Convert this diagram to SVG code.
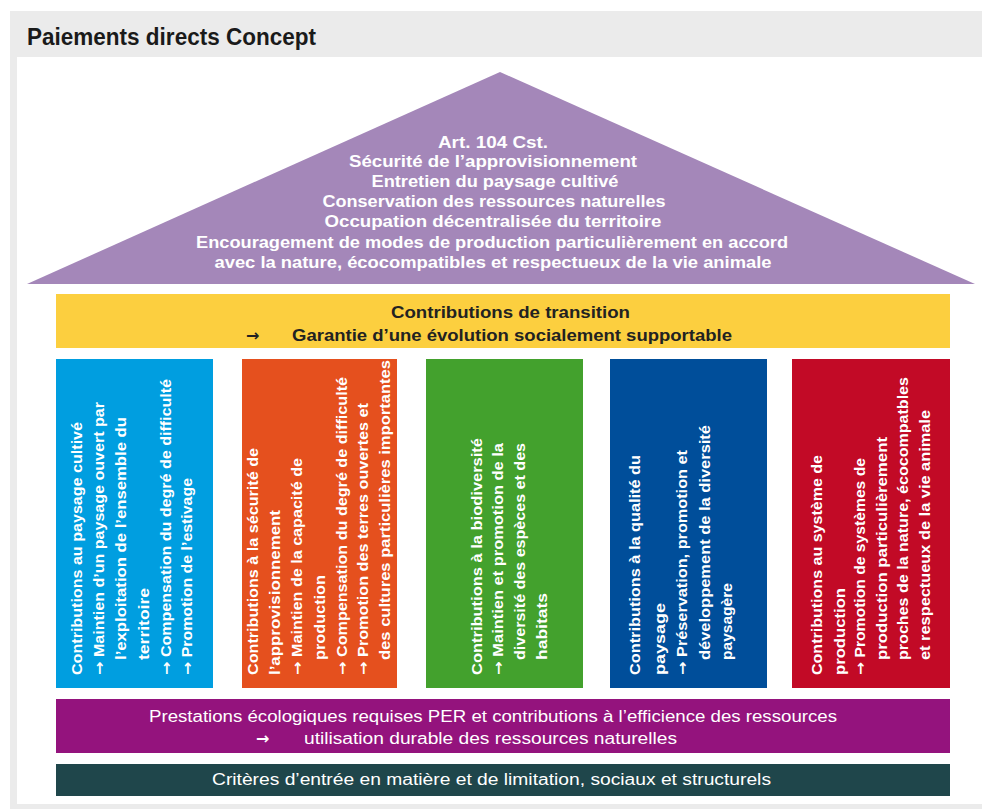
<svg xmlns="http://www.w3.org/2000/svg" width="982" height="809" viewBox="0 0 982 809">
<style>
text{font-family:"Liberation Sans",Arial,sans-serif}
.title{font-size:23px;font-weight:bold;fill:#1a1a1a}
.roof{font-size:16px;font-weight:bold;fill:#fff;text-anchor:middle}
.yel{font-size:16px;font-weight:bold;fill:#222}
.col{font-size:14px;font-weight:bold;fill:#fff}
.bar{font-size:16px;fill:#fff}
.ar{font-family:"DejaVu Sans",sans-serif;font-weight:bold}
</style>
<rect x="0" y="0" width="982" height="809" fill="#fff"/>
<rect x="10" y="11" width="972" height="798" fill="#ebebeb"/>
<rect x="17" y="57" width="965" height="747" fill="#fff"/>
<text class="title" x="27" y="45" textLength="289" lengthAdjust="spacingAndGlyphs">Paiements directs Concept</text>

<g id="roof">
<polygon points="500,72 975,284 27,284" fill="#a487b9"/>
<text class="roof" x="493" y="148" textLength="110" lengthAdjust="spacingAndGlyphs">Art. 104 Cst.</text>
<text class="roof" x="493" y="167" textLength="288" lengthAdjust="spacingAndGlyphs">Sécurité de l’approvisionnement</text>
<text class="roof" x="495" y="187" textLength="247" lengthAdjust="spacingAndGlyphs">Entretien du paysage cultivé</text>
<text class="roof" x="494" y="207" textLength="343" lengthAdjust="spacingAndGlyphs">Conservation des ressources naturelles</text>
<text class="roof" x="493" y="227" textLength="337" lengthAdjust="spacingAndGlyphs">Occupation décentralisée du territoire</text>
<text class="roof" x="492" y="248" textLength="592" lengthAdjust="spacingAndGlyphs">Encouragement de modes de production particulièrement en accord</text>
<text class="roof" x="493" y="268" textLength="557" lengthAdjust="spacingAndGlyphs">avec la nature, écocompatibles et respectueux de la vie animale</text>
</g>

<g id="transition">
<rect x="56" y="294" width="894" height="54" fill="#fccf3f"/>
<text class="yel" x="391" y="318" textLength="239" lengthAdjust="spacingAndGlyphs">Contributions de transition</text>
<text class="yel ar" x="246" y="341" font-size="14">→</text>
<text class="yel" x="292" y="341" textLength="440" lengthAdjust="spacingAndGlyphs">Garantie d’une évolution socialement supportable</text>
</g>

<g id="col-paysage">
<rect x="56" y="359" width="157" height="329" fill="#009ee0"/>
<g transform="translate(0,675) rotate(-90)">
<text class="col" x="0" y="82" textLength="253" lengthAdjust="spacingAndGlyphs">Contributions au paysage cultivé</text>
<text class="col" x="0" y="104" textLength="273" lengthAdjust="spacingAndGlyphs"><tspan class="ar">→</tspan> Maintien d’un paysage ouvert par</text>
<text class="col" x="15" y="126" textLength="243" lengthAdjust="spacingAndGlyphs">l’exploitation de l’ensemble du</text>
<text class="col" x="15" y="149" textLength="72" lengthAdjust="spacingAndGlyphs">territoire</text>
<text class="col" x="0" y="171" textLength="296" lengthAdjust="spacingAndGlyphs"><tspan class="ar">→</tspan> Compensation du degré de difficulté</text>
<text class="col" x="0" y="192" textLength="197" lengthAdjust="spacingAndGlyphs"><tspan class="ar">→</tspan> Promotion de l’estivage</text>
</g>
</g>

<g id="col-securite">
<rect x="242" y="359" width="155" height="329" fill="#e5501e"/>
<g transform="translate(0,675) rotate(-90)">
<text class="col" x="0" y="258" textLength="227" lengthAdjust="spacingAndGlyphs">Contributions à la sécurité de</text>
<text class="col" x="0" y="280" textLength="165" lengthAdjust="spacingAndGlyphs">l’approvisionnement</text>
<text class="col" x="0" y="302" textLength="217" lengthAdjust="spacingAndGlyphs"><tspan class="ar">→</tspan> Maintien de la capacité de</text>
<text class="col" x="15" y="325" textLength="85" lengthAdjust="spacingAndGlyphs">production</text>
<text class="col" x="0" y="347" textLength="298" lengthAdjust="spacingAndGlyphs"><tspan class="ar">→</tspan> Compensation du degré de difficulté</text>
<text class="col" x="0" y="368" textLength="272" lengthAdjust="spacingAndGlyphs"><tspan class="ar">→</tspan> Promotion des terres ouvertes et</text>
<text class="col" x="15" y="390" textLength="300" lengthAdjust="spacingAndGlyphs">des cultures particulières importantes</text>
</g>
</g>

<g id="col-biodiversite">
<rect x="426" y="359" width="157" height="329" fill="#43a12d"/>
<g transform="translate(0,675) rotate(-90)">
<text class="col" x="0" y="482" textLength="237" lengthAdjust="spacingAndGlyphs">Contributions à la biodiversité</text>
<text class="col" x="0" y="503" textLength="232" lengthAdjust="spacingAndGlyphs"><tspan class="ar">→</tspan> Maintien et promotion de la</text>
<text class="col" x="15" y="525" textLength="217" lengthAdjust="spacingAndGlyphs">diversité des espèces et des</text>
<text class="col" x="15" y="547" textLength="67" lengthAdjust="spacingAndGlyphs">habitats</text>
</g>
</g>

<g id="col-qualite">
<rect x="610" y="359" width="157" height="329" fill="#004e9a"/>
<g transform="translate(0,675) rotate(-90)">
<text class="col" x="0" y="640" textLength="220" lengthAdjust="spacingAndGlyphs">Contributions à la qualité du</text>
<text class="col" x="0" y="665" textLength="72" lengthAdjust="spacingAndGlyphs">paysage</text>
<text class="col" x="0" y="687" textLength="225" lengthAdjust="spacingAndGlyphs"><tspan class="ar">→</tspan> Préservation, promotion et</text>
<text class="col" x="15" y="710" textLength="235" lengthAdjust="spacingAndGlyphs">développement de la diversité</text>
<text class="col" x="15" y="732" textLength="77" lengthAdjust="spacingAndGlyphs">paysagère</text>
</g>
</g>

<g id="col-production">
<rect x="792" y="359" width="158" height="329" fill="#c20a26"/>
<g transform="translate(0,675) rotate(-90)">
<text class="col" x="0" y="822" textLength="220" lengthAdjust="spacingAndGlyphs">Contributions au système de</text>
<text class="col" x="0" y="845" textLength="87" lengthAdjust="spacingAndGlyphs">production</text>
<text class="col" x="0" y="865" textLength="217" lengthAdjust="spacingAndGlyphs"><tspan class="ar">→</tspan> Promotion de systèmes de</text>
<text class="col" x="15" y="887" textLength="223" lengthAdjust="spacingAndGlyphs">production particulièrement</text>
<text class="col" x="15" y="908" textLength="283" lengthAdjust="spacingAndGlyphs">proches de la nature, écocompatbles</text>
<text class="col" x="15" y="930" textLength="250" lengthAdjust="spacingAndGlyphs">et respectueux de la vie animale</text>
</g>
</g>

<g id="per">
<rect x="56" y="699" width="894" height="54" fill="#94137d"/>
<text class="bar" x="149" y="722" textLength="688" lengthAdjust="spacingAndGlyphs">Prestations écologiques requises PER et contributions à l’efficience des ressources</text>
<text class="bar ar" x="256" y="744" font-size="14">→</text>
<text class="bar" x="304" y="744" textLength="373" lengthAdjust="spacingAndGlyphs">utilisation durable des ressources naturelles</text>
</g>

<g id="criteres">
<rect x="56" y="764" width="894" height="32" fill="#1f464b"/>
<text class="bar" x="212" y="785" textLength="559" lengthAdjust="spacingAndGlyphs">Critères d’entrée en matière et de limitation, sociaux et structurels</text>
</g>

<g id="connectors"/>
</svg>
